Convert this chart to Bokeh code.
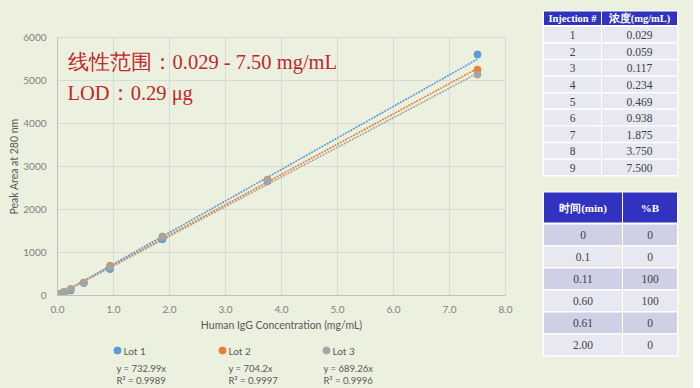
from bokeh.plotting import figure
from bokeh.models import Range1d, Label, SingleIntervalTicker, PrintfTickFormatter
from bokeh.layouts import row, column
from bokeh.core.properties import value
from bokeh.embed import file_html
from bokeh.resources import INLINE

# ---------------- data ----------------
conc = [0.029, 0.059, 0.117, 0.234, 0.469, 0.938, 1.875, 3.750, 7.500]
lot1 = [18, 38, 75, 118, 290, 615, 1310, 2660, 5605]
lot2 = [20, 42, 85, 150, 300, 690, 1370, 2690, 5250]
lot3 = [20, 40, 80, 145, 295, 660, 1360, 2680, 5140]
lot_names = ["Lot 1", "Lot 2", "Lot 3"]
slopes = [732.99, 704.2, 689.26]
r2 = [0.9989, 0.9997, 0.9996]

inj_ids = ["1", "2", "3", "4", "5", "6", "7", "8", "9"]
inj_conc = ["0.029", "0.059", "0.117", "0.234", "0.469", "0.938", "1.875", "3.750", "7.500"]
inj_headers = ["Injection #", "浓度(mg/mL)"]

grad_time = ["0", "0.1", "0.11", "0.60", "0.61", "2.00"]
grad_b = ["0", "0", "100", "100", "0", "0"]
grad_headers = ["时间(min)", "%B"]

BG = "#EBF1DE"
COLORS = ["#5B9BD5", "#ED7D31", "#A5A5A5"]
GRAY = "#7F7F7F"
TXT = "#595959"
SANS = "Lato"
SERIF = "Liberation Serif"

# ---------------- chart ----------------
p = figure(width=538, height=335, x_range=Range1d(0, 8), y_range=Range1d(0, 6000),
           output_backend="svg", toolbar_location=None, frame_align=False,
           min_border_left=57, min_border_right=33, min_border_top=37, min_border_bottom=40,
           background_fill_color=BG, border_fill_color=BG, outline_line_color="#D9D9D9")

p.xaxis.ticker = SingleIntervalTicker(interval=1)
p.yaxis.ticker = SingleIntervalTicker(interval=1000)
p.xaxis.formatter = PrintfTickFormatter(format="%.1f")
for ax in (p.xaxis, p.yaxis):
    ax.major_tick_line_color = None
    ax.minor_tick_line_color = None
    ax.axis_line_color = "#BFBFBF"
    ax.major_label_text_color = GRAY
    ax.major_label_text_font = SANS
    ax.major_label_text_font_size = "10px"
    ax.axis_label_text_color = TXT
    ax.axis_label_text_font = SANS
    ax.axis_label_text_font_size = "10.5px"
    ax.axis_label_text_font_style = "normal"
p.xaxis.axis_label = "Human IgG Concentration (mg/mL)"
p.yaxis.axis_label = "Peak Area at 280 nm"
p.xaxis.major_label_standoff = 4
p.yaxis.major_label_standoff = 5
p.xaxis.axis_label_standoff = 3
p.yaxis.axis_label_standoff = 0
p.grid.grid_line_color = "#D9D9D9"

x_end = max(conc)
for ys, slope, col in zip([lot1, lot2, lot3], slopes, COLORS):
    p.line([0, x_end], [0, slope * x_end], line_color=col, line_width=1.6, line_dash="2 1")
for ys, col in zip([lot1, lot2, lot3], COLORS):
    p.scatter(conc, ys, size=7, fill_color=col, line_color=col)

# red annotation (frame-relative screen units)
FL, FB = 57, 295  # frame left / bottom in page pixels
def sx(px):
    return px - FL
def sy(py):
    return FB - py

p.add_layout(Label(x=sx(67), y=sy(61), x_units="screen", y_units="screen",
                   text="线性范围：0.029 - 7.50 mg/mL", text_color="#C0282E",
                   text_font=SERIF, text_font_size="20.5px", text_baseline="alphabetic"))
p.add_layout(Label(x=sx(67), y=sy(92), x_units="screen", y_units="screen",
                   text="LOD：0.29 μg", text_color="#C0282E",
                   text_font=SERIF, text_font_size="20.5px", text_baseline="alphabetic"))

# ---------------- legend strip below chart ----------------
lg = figure(width=538, height=53, x_range=Range1d(0, 538), y_range=Range1d(388, 335),
            output_backend="svg", toolbar_location=None, min_border=0, frame_align=False,
            x_axis_type=None, y_axis_type=None,
            background_fill_color=BG, border_fill_color=BG, outline_line_color=None)
lg.grid.visible = False
leg_x = [117, 222, 326]
eq_x = [116, 228, 323]
lg.scatter(leg_x, [350] * 3, size=7, fill_color=COLORS, line_color=COLORS)
lg.text([x + 6 for x in leg_x], [350] * 3, text=lot_names, text_color=TXT,
        text_font=value(SANS), text_font_size="10px", text_baseline="middle")
lg.text(eq_x, [368] * 3, text=[f"y = {s:g}x" for s in slopes], text_color=TXT,
        text_font=value(SANS), text_font_size="9.5px", text_baseline="middle")
lg.text(eq_x, [379.5] * 3, text=[f"R² = {v:.4f}" for v in r2], text_color=TXT,
        text_font=value(SANS), text_font_size="9.5px", text_baseline="middle")

# ---------------- tables ----------------
t = figure(width=155, height=388, x_range=Range1d(538, 693), y_range=Range1d(388, 0),
           output_backend="svg", toolbar_location=None, min_border=0, frame_align=False,
           x_axis_type=None, y_axis_type=None,
           background_fill_color=BG, border_fill_color=BG, outline_line_color=None)
t.grid.visible = False

HEAD = "#3232C0"
LIGHT = "#E8E8F3"
DARK = "#CFCFE6"

def draw_table(col_edges, head_top, head_h, row_top, row_h, rows, headers, alt, head_size):
    left, right = col_edges[0], col_edges[-1]
    n = len(rows[0])
    bottom = row_top + n * row_h
    t.quad(left=[left - 1], right=[right + 1], top=[head_top - 1], bottom=[bottom + 1],
           fill_color="white", line_color=None)
    hl = col_edges[:-1]
    hr = col_edges[1:]
    t.quad(left=[a + 0.5 for a in hl], right=[b - 0.5 for b in hr],
           top=[head_top] * len(hl), bottom=[head_top + head_h] * len(hl),
           fill_color=HEAD, line_color=None)
    t.text(x=[(a + b) / 2 for a, b in zip(hl, hr)], y=[head_top + head_h / 2 + 0.5] * len(hl),
           text=headers, text_color="white", text_font=value(SERIF),
           text_font_style="bold", text_font_size=head_size,
           text_align="center", text_baseline="middle")
    for c, (a, b) in enumerate(zip(hl, hr)):
        tops = [row_top + i * row_h + 1 for i in range(n)]
        bots = [row_top + (i + 1) * row_h - 0.5 for i in range(n)]
        fills = [(DARK if (alt and i % 2 == 0) else LIGHT) for i in range(n)]
        t.quad(left=[a + 0.5] * n, right=[b - 0.5] * n, top=tops, bottom=bots,
               fill_color=fills, line_color=None)
        t.text(x=[(a + b) / 2] * n, y=[row_top + (i + 0.5) * row_h + 0.8 for i in range(n)],
               text=rows[c], text_color="#404040", text_font=value(SERIF),
               text_font_size="11.5px", text_align="center", text_baseline="middle")

draw_table([543, 601, 677], 11, 13.5, 25.5, 16.6, [inj_ids, inj_conc], inj_headers, False, "10.5px")
draw_table([543, 622, 677], 192, 30, 223, 22, [grad_time, grad_b], grad_headers, True, "11px")

layout = row(column(p, lg, styles={"background-color": BG}), t,
             styles={"background-color": BG})
open("out.html", "w").write(file_html(layout, INLINE))
